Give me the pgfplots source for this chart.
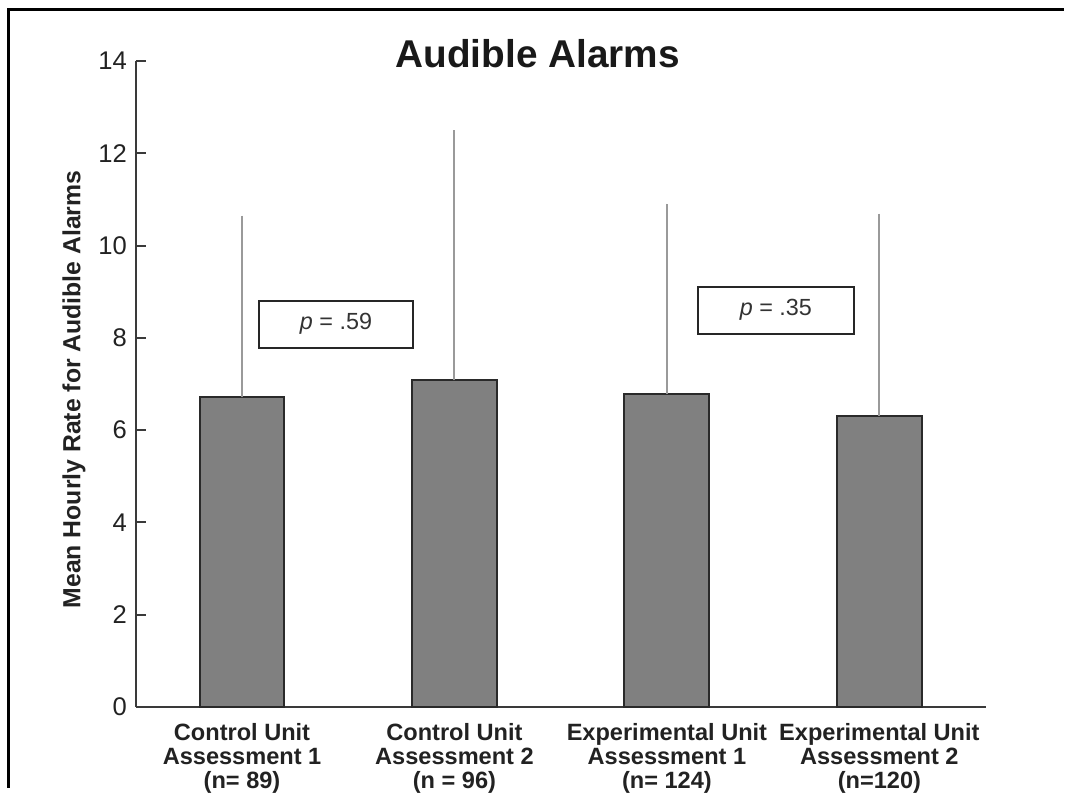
\documentclass[border=0pt]{standalone}
\usepackage{fontspec}
\setmainfont{Liberation Sans}
\usepackage{pgfplots}
\pgfplotsset{compat=1.18}
\definecolor{barfill}{HTML}{808080}
\definecolor{bardraw}{HTML}{2A2A2A}
\definecolor{whisk}{HTML}{9A9A9A}
\definecolor{axcol}{HTML}{3A3A3A}
\definecolor{txt}{HTML}{222222}
\begin{document}
\begin{tikzpicture}
\begin{scope}[x=0.5pt,y=-0.5pt]
\useasboundingbox (0,0) rectangle (1065,789);
\end{scope}
\begin{axis}[
  at={(68pt,-354pt)}, anchor=south west,
  width=425.5pt, height=323.5pt, scale only axis,
  xmin=-0.5, xmax=3.5, ymin=0, ymax=14,
  axis x line*=bottom, axis y line*=left,
  axis line style={draw=axcol, line width=1.1pt},
  ytick={0,2,4,6,8,10,12,14},
  tick align=inside,
  major tick length=5pt,
  major y tick style={draw=axcol, line width=1pt},
  yticklabel style={font=\fontsize{12.8}{12.8}\selectfont, text=txt,
     /pgf/number format/assume math mode=true, xshift=-1pt},
  xtick={0,1,2,3},
  major x tick style={draw=none},
  xticklabels={{Control Unit\\Assessment 1\\(n= 89)},
               {Control Unit\\Assessment 2\\(n = 96)},
               {Experimental Unit\\Assessment 1\\(n= 124)},
               {Experimental Unit\\Assessment 2\\(n=120)}},
  xticklabel style={align=center, anchor=north, yshift=-4.5pt,
     font=\bfseries\fontsize{11.8}{12}\selectfont, text=txt},
  clip=false,
]
\addplot[ybar, bar width=42.5pt, fill=barfill, draw=bardraw, line width=1pt,
  error bars/.cd, y dir=plus, y explicit, error mark=none,
  error bar style={line width=1pt, color=whisk}]
  coordinates {
    (0,6.71) +- (0,3.94)
    (1,7.08) +- (0,5.42)
    (2,6.79) +- (0,4.12)
    (3,6.31) +- (0,4.38)
  };
\end{axis}
\begin{scope}[x=0.5pt,y=-0.5pt]
\draw[line width=1.5pt, black] (8.5,789) -- (8.5,9.5) -- (1065,9.5);
\node[anchor=base, font=\bfseries\fontsize{19.4}{19.4}\selectfont, text=black!90] at (538.5,68) {Audible Alarms};
\node[rotate=90, font=\bfseries\fontsize{12.4}{12.4}\selectfont, text=txt] at (74,390) {Mean Hourly Rate for Audible Alarms};
\node[draw=black!85, line width=1pt, minimum width=77.5pt, minimum height=23.5pt, inner sep=0pt,
  font=\fontsize{11.7}{12}\selectfont, text=black!80] at (336.5,324.5) {\textit{p} = .59};
\node[draw=black!85, line width=1pt, minimum width=78pt, minimum height=23.5pt, inner sep=0pt,
  font=\fontsize{11.7}{12}\selectfont, text=black!80] at (777,310.5) {\textit{p} = .35};
\end{scope}
\end{tikzpicture}
\end{document}
